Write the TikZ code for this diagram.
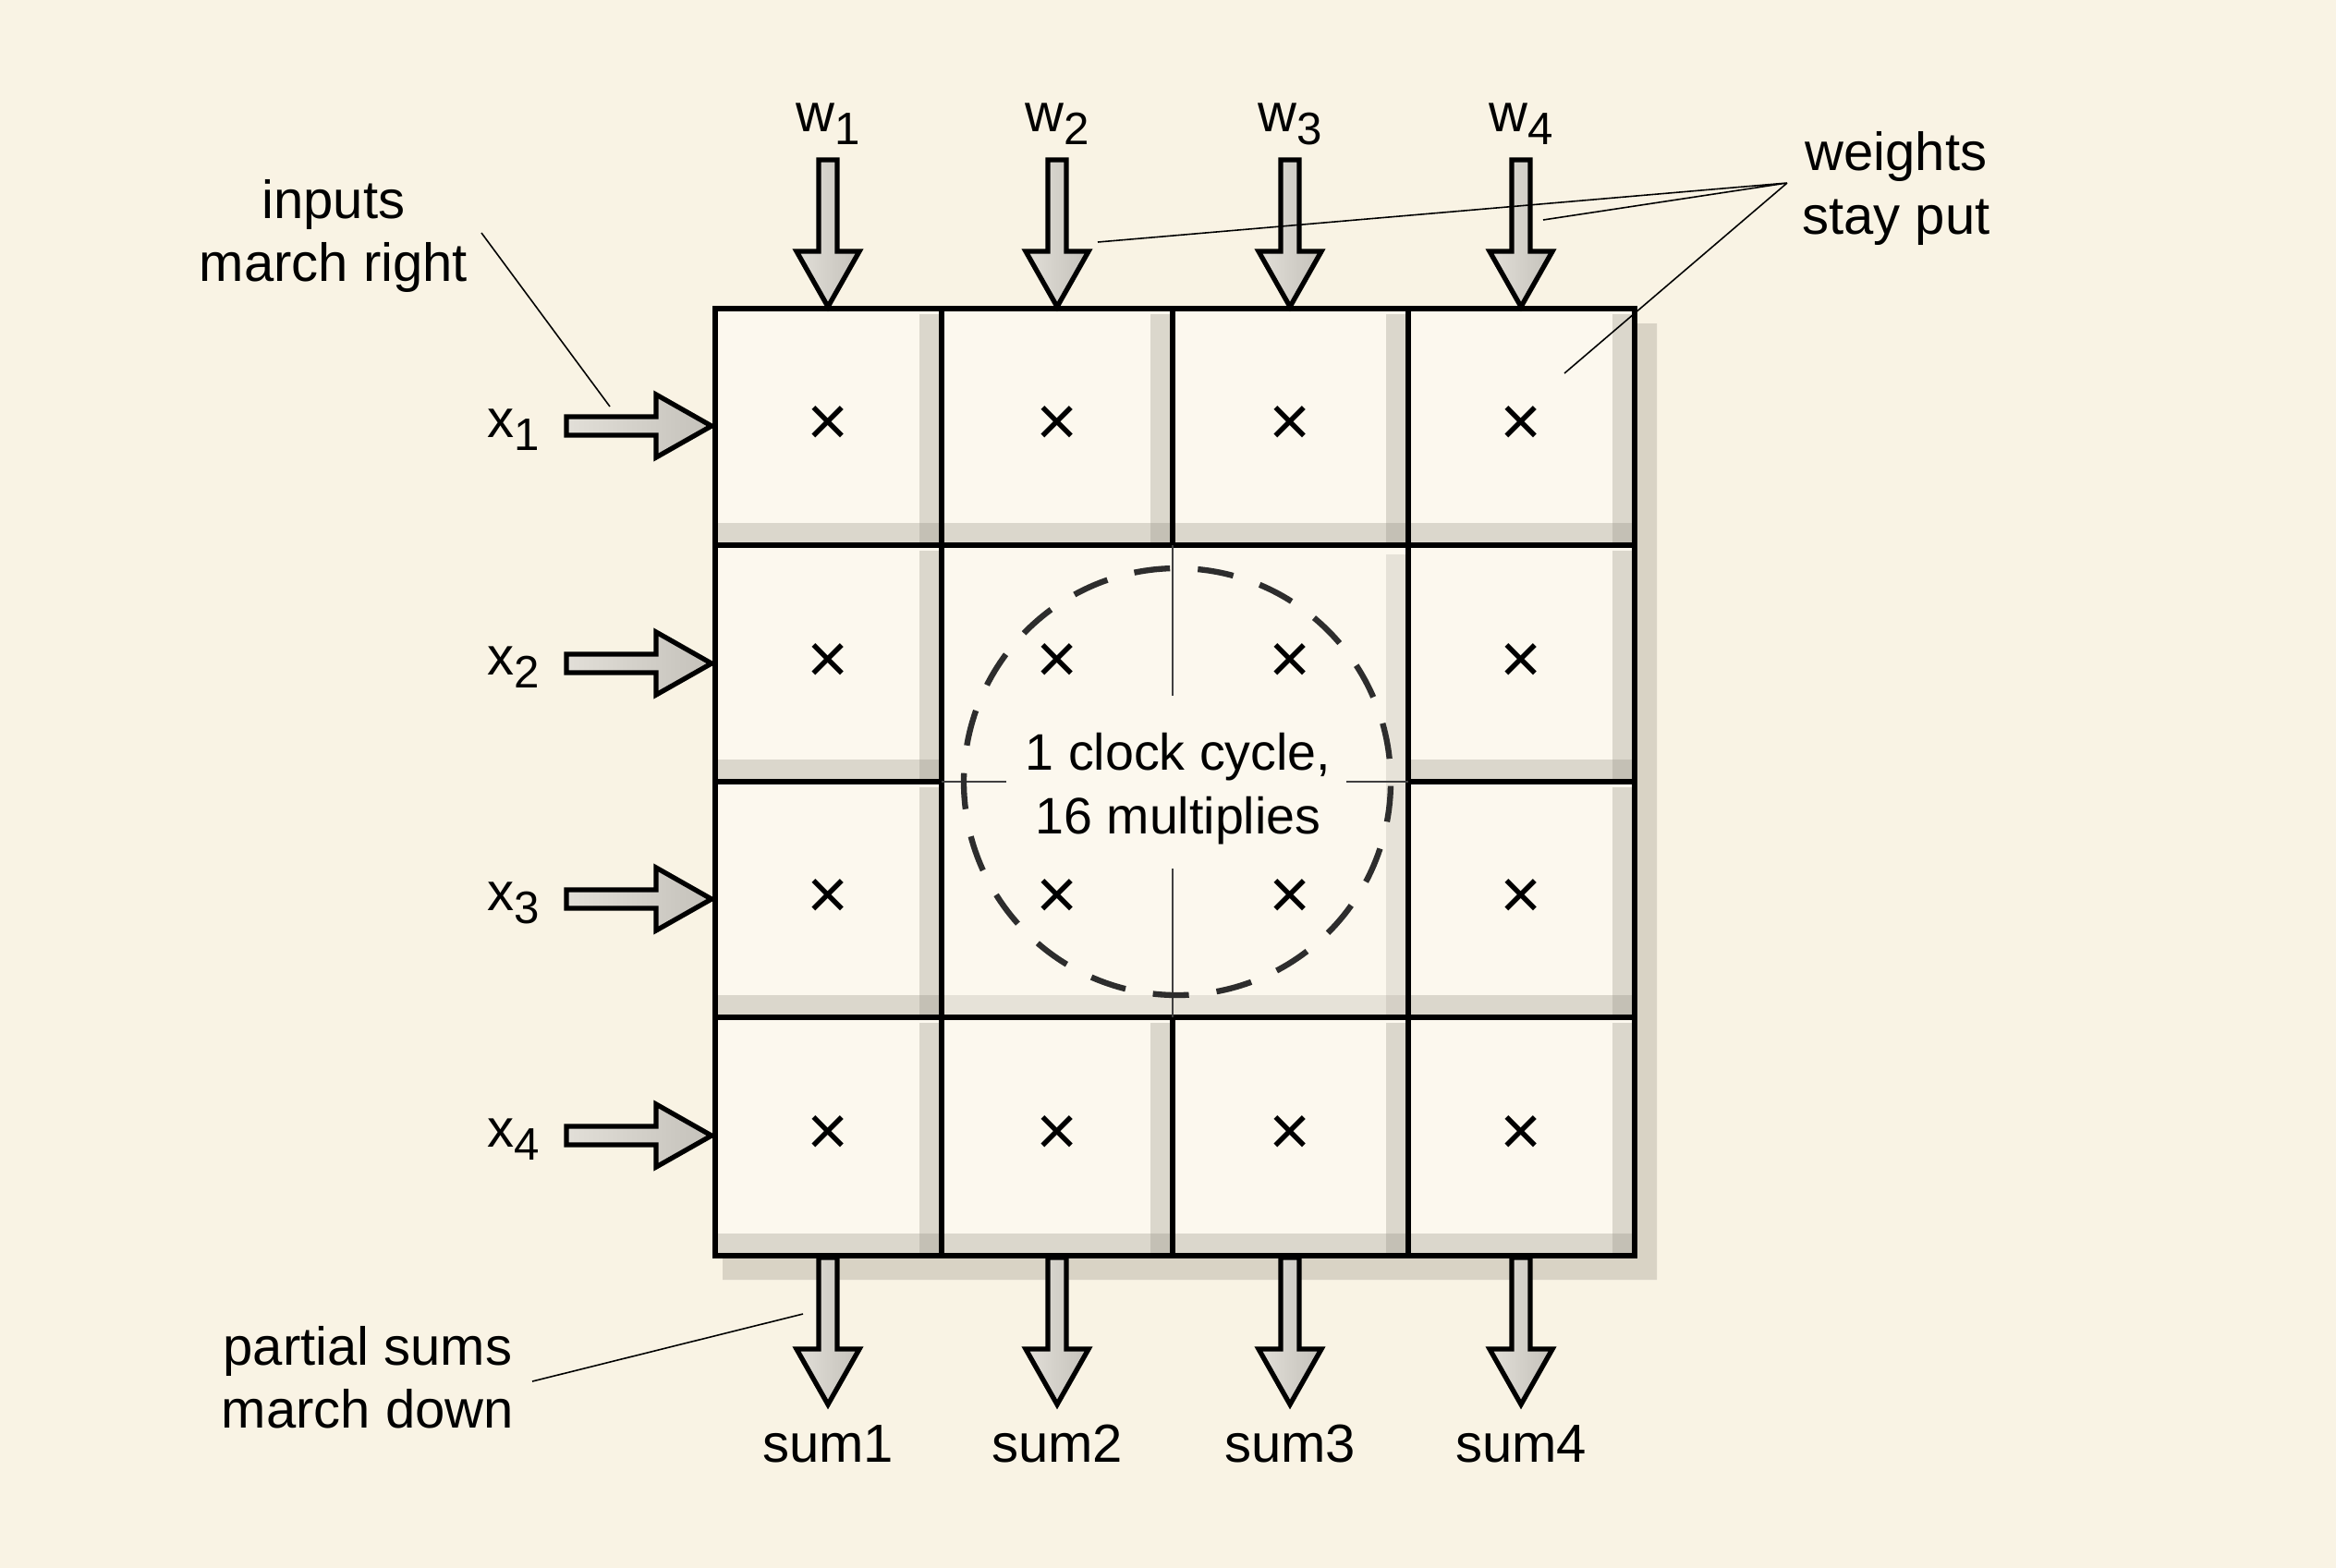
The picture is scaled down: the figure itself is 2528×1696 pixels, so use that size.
\documentclass[tikz,border=0pt]{standalone}
\usepackage{fontspec}
\setmainfont{Liberation Sans}
\definecolor{paperA}{RGB}{249,243,228}
\definecolor{paperB}{RGB}{241,229,205}
\definecolor{cellc}{RGB}{252,248,238}
\definecolor{shadowc}{RGB}{145,140,128}
\definecolor{arrowA}{RGB}{226,223,216}
\definecolor{arrowB}{RGB}{196,193,186}
\definecolor{dashc}{RGB}{45,45,45}
\pgfdeclareradialshading{vignette}{\pgfpoint{0bp}{0bp}}{color(0bp)=(paperA); color(35bp)=(paperA); color(71bp)=(paperB)}
\newcommand\lowsub[1]{\raisebox{-4.2pt}{\fontsize{14pt}{14pt}\selectfont #1}}
\newcommand\cellstrips[4]{%
  \fill[shadestrip] ({#3-24},{#2+6}) rectangle ({#3-3},{#4-3});
  \fill[shadestrip] ({#1+3},{#4-24}) rectangle ({#3-3},{#4-3});}
\newcommand\darr[3]{\draw[blockarrow] ({#1-10},#2) -- ({#1+10},#2) -- ({#1+10},{#3-60}) -- ({#1+34},{#3-60}) -- (#1,#3) -- ({#1-34},{#3-60}) -- ({#1-10},{#3-60}) -- cycle;}
\newcommand\rarr[3]{\draw[blockarrow] (#2,{#1-10}) -- (#2,{#1+10}) -- ({#3-60},{#1+10}) -- ({#3-60},{#1+34}) -- (#3,#1) -- ({#3-60},{#1-34}) -- ({#3-60},{#1-10}) -- cycle;}
\tikzset{
  lbl/.style={font=\fontsize{16.5pt}{19.5pt}\selectfont, inner sep=0pt, anchor=base},
  ctext/.style={font=\fontsize{15.8pt}{19pt}\selectfont, inner sep=0pt, anchor=base},
  mult/.style={font=\fontsize{22pt}{22pt}\selectfont, inner sep=0pt},
  gridthick/.style={line width=1.5pt, draw=black},
  gridthin/.style={line width=0.45pt, draw=black!75},
  leader/.style={line width=0.45pt, draw=black},
  blockarrow/.style={draw=black, line width=1.5pt, line join=miter, left color=arrowA, right color=arrowB},
  shadestrip/.style={fill=shadowc, fill opacity=0.3},
  centerstrip/.style={fill=shadowc, fill opacity=0.2},
  dashring/.style={draw=dashc, line width=1.8pt, dash pattern=on 11.1pt off 8.565pt, dash phase=18.38pt},
}
\begin{document}
\begin{tikzpicture}[x=0.01cm,y=-0.01cm]
\useasboundingbox (0,0) rectangle (2528,1696);
\fill[shading=vignette] (0,0) rectangle (2528,1696);

% outer shadow of the grid
\fill[shadestrip] (1769,350) -- (1793,350) -- (1793,1385) -- (782,1385) -- (782,1359) -- (1769,1359) -- cycle;
% cell paper
\fill[cellc] (774,334) rectangle (1769,1359);
% inner strips
\foreach \ty/\by in {334/590,1101/1359}
  \foreach \lx/\rx in {774/1019,1019/1269,1269/1524,1524/1769}
    {\cellstrips{\lx}{\ty}{\rx}{\by}}
\foreach \ty/\by in {590/846,846/1101}
  \foreach \lx/\rx in {774/1019,1524/1769}
    {\cellstrips{\lx}{\ty}{\rx}{\by}}
\fill[centerstrip] (1500,600) rectangle (1521,1098);
\fill[centerstrip] (1022,1077) rectangle (1521,1098);

% input arrows (weights from top, x from left, sums to bottom)
\foreach \cx in {896,1144,1396,1646} {\darr{\cx}{173}{332}}
\foreach \cy in {461,718,973,1229} {\rarr{\cy}{613}{770}}
\foreach \cx in {896,1144,1396,1646} {\darr{\cx}{1361}{1520}}

% grid
\draw[gridthick] (774,334) rectangle (1769,1359);
\draw[gridthick] (1019,334) -- (1019,1359);
\draw[gridthick] (1524,334) -- (1524,1359);
\draw[gridthick] (1269,334) -- (1269,590) (1269,1101) -- (1269,1359);
\draw[gridthick] (774,590) -- (1769,590) (774,1101) -- (1769,1101);
\draw[gridthick] (774,846) -- (1019,846) (1524,846) -- (1769,846);
\draw[gridthin] (1269,590) -- (1269,753) (1269,940) -- (1269,1101)
                (1019,846) -- (1089,846) (1457,846) -- (1524,846);

% multiply marks
\foreach \cx [count=\i] in {896,1144,1396,1646}
  \foreach \cy [count=\j] in {461,718,973,1229}
    {\node[mult] (m-\i-\j) at (\cx,\cy) {×};}

% dashed ring
\coordinate (ringc) at (1274,846);
\draw[dashring] (ringc) circle [radius=231];
\node[ctext] (ring1) at (1275,833) {1 clock cycle,};
\node[ctext] (ring2) at (1275,902) {16 multiplies};

% weight labels
\node[lbl] (w1) at (896,142) {w\lowsub{1}};
\node[lbl] (w2) at (1144,142) {w\lowsub{2}};
\node[lbl] (w3) at (1396,142) {w\lowsub{3}};
\node[lbl] (w4) at (1646,142) {w\lowsub{4}};
% input labels
\node[lbl] (x1) at (556,473) {x\lowsub{1}};
\node[lbl] (x2) at (556,730) {x\lowsub{2}};
\node[lbl] (x3) at (556,985) {x\lowsub{3}};
\node[lbl] (x4) at (556,1241) {x\lowsub{4}};
% sum labels
\node[lbl] (s1) at (896,1582) {sum1};
\node[lbl] (s2) at (1144,1582) {sum2};
\node[lbl] (s3) at (1396,1582) {sum3};
\node[lbl] (s4) at (1646,1582) {sum4};

% annotations
\node[lbl] (inp1) at (361,236) {inputs};
\node[lbl] (inp2) at (361,304) {march right};
\node[lbl] (wt1) at (2052,184) {weights};
\node[lbl] (wt2) at (2052,253) {stay put};
\node[lbl] (ps1) at (398,1477) {partial sums};
\node[lbl] (ps2) at (398,1545) {march down};

% leader lines
\coordinate (inA) at (521,252);
\coordinate (inB) at (660,440);
\draw[leader] (inA) -- (inB);
\coordinate (wtA) at (1934,198);
\coordinate (wtB) at (1188,262);
\coordinate (wtC) at (1670,238);
\coordinate (wtD) at (1693,404);
\draw[leader] (wtA) -- (wtB) (wtA) -- (wtC) (wtA) -- (wtD);
\coordinate (psA) at (576,1495);
\coordinate (psB) at (869,1422);
\draw[leader] (psA) -- (psB);
\end{tikzpicture}
\end{document}
